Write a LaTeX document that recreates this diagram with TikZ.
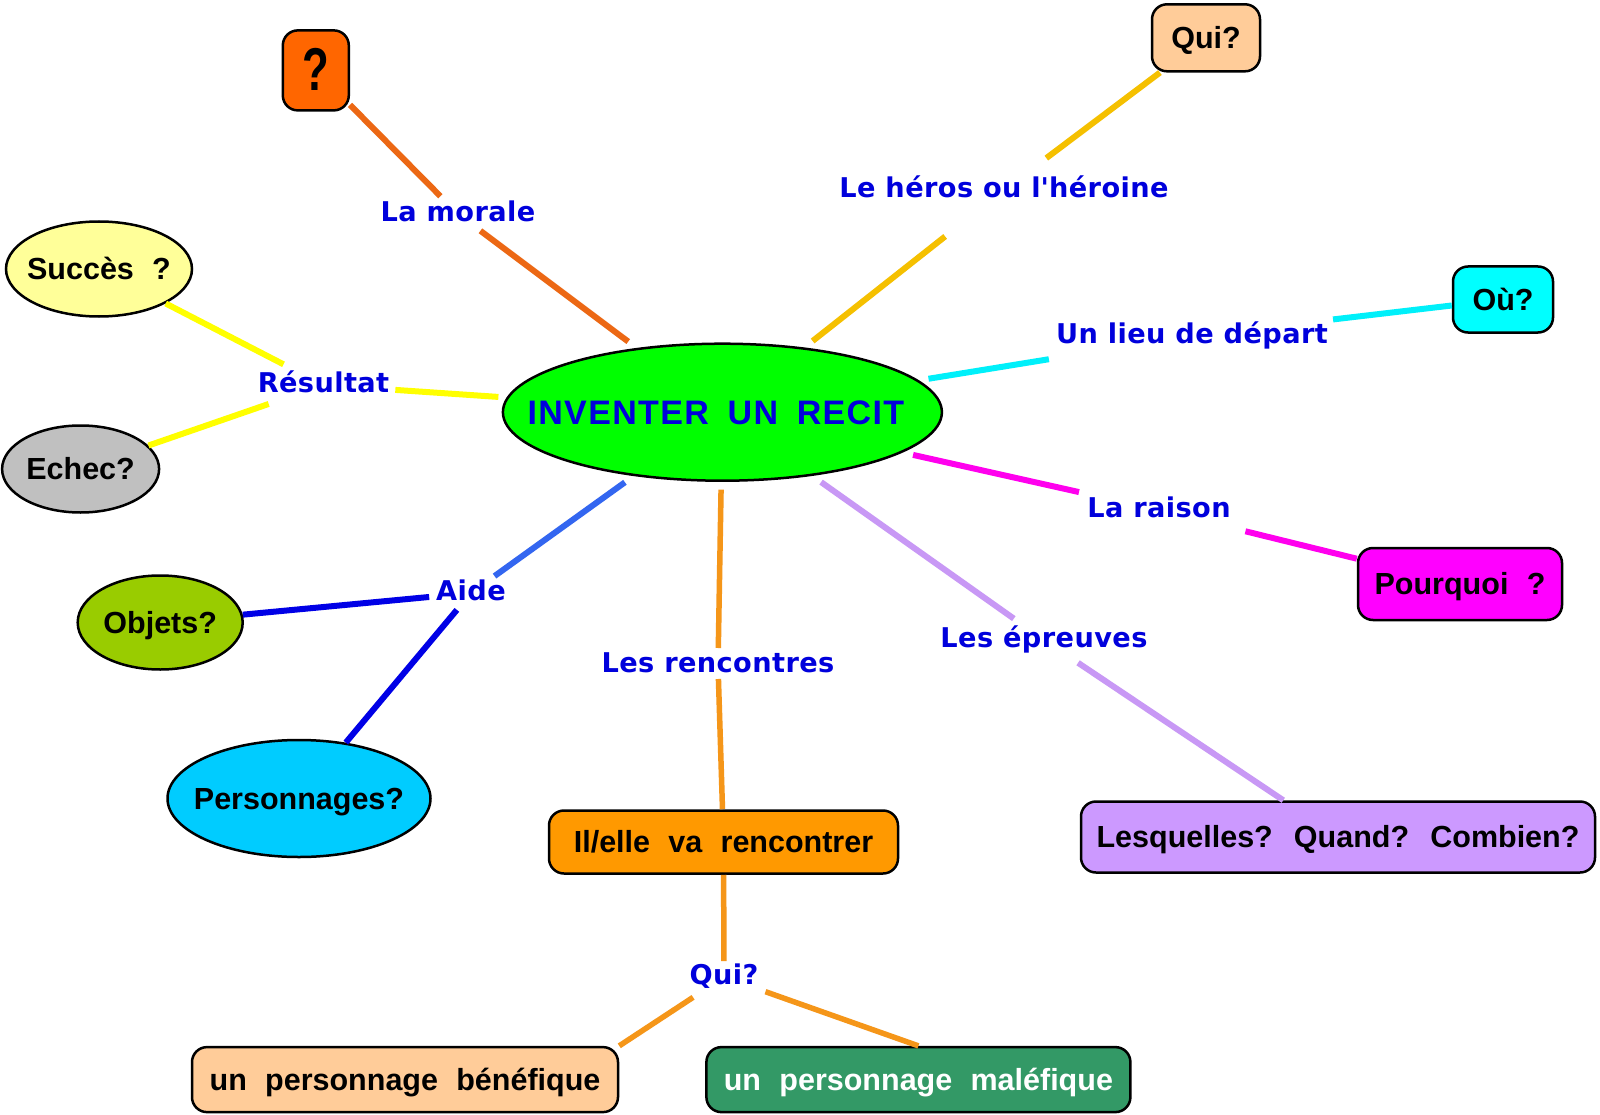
\documentclass[tikz,border=0pt]{standalone}
\usepackage{fontspec}
\usetikzlibrary{shapes.geometric}
\newfontfamily\arialf{Liberation Sans}
\newfontfamily\arialsp[LetterSpace=4]{Liberation Sans}
\newfontfamily\verdf[LetterSpace=1.5]{DejaVu Sans}
\newcommand\nodetxt{\arialf\bfseries\fontsize{30.5}{34}\selectfont\spaceskip=0.6em\relax}
\newcommand\centertxt{\arialsp\bfseries\fontsize{34}{38}\selectfont\spaceskip=0.55em\relax}
\newcommand\lbltxt{\verdf\bfseries\fontsize{27.2}{30}\selectfont}

\definecolor{lblue}{RGB}{0,0,220}
\definecolor{cgreen}{RGB}{0,255,0}
\definecolor{peach}{RGB}{255,204,153}
\definecolor{cyanf}{RGB}{0,255,255}
\definecolor{magf}{RGB}{255,0,255}
\definecolor{lavf}{RGB}{204,153,255}
\definecolor{orangef}{RGB}{255,153,0}
\definecolor{seagreen}{RGB}{51,153,102}
\definecolor{qorange}{RGB}{255,102,0}
\definecolor{paleyellow}{RGB}{255,255,153}
\definecolor{greyf}{RGB}{192,192,192}
\definecolor{oliveg}{RGB}{153,204,0}
\definecolor{skyf}{RGB}{0,204,255}
% connector colours
\definecolor{cmorale}{RGB}{236,104,20}
\definecolor{cheros}{RGB}{245,192,0}
\definecolor{clieu}{RGB}{0,240,250}
\definecolor{craison}{RGB}{255,0,238}
\definecolor{cepreuves}{RGB}{200,152,245}
\definecolor{crencontres}{RGB}{245,150,25}
\definecolor{cresultat}{RGB}{255,255,0}
\definecolor{caide}{RGB}{51,102,240}
\definecolor{daide}{RGB}{0,0,230}

\tikzset{
  lbl/.style={font=\lbltxt, text=lblue, inner xsep=5pt, inner ysep=1pt,
    text height=20pt, text depth=5pt},
  boxn/.style={draw=black, line width=2.5pt, rounded corners=15pt, inner sep=0pt,
    text height=21.8pt, text depth=0pt, font=\nodetxt},
  oval/.style={ellipse, draw=black, line width=2.5pt, inner sep=0pt,
    text height=21.8pt, text depth=0pt, font=\nodetxt},
  conn/.style={line width=6pt},
}

\begin{document}
\begin{tikzpicture}[x=1pt,y=-1pt]
\useasboundingbox[fill=white] (0,0) rectangle (1600,1115);

% central node
\node[ellipse, draw=black, line width=2.5pt, fill=cgreen, minimum width=439pt,
  minimum height=137pt, inner sep=0pt, outer sep=9pt, text=lblue,
  font=\centertxt, text height=24.3pt, text depth=0pt]
  (c) at (722.4,412.2) {\makebox[0pt]{\hspace*{-13pt}INVENTER UN RECIT}};

% outer nodes
\node[boxn, fill=qorange, minimum width=66pt, minimum height=80pt,
  font=\arialf\bfseries\fontsize{56}{60}\selectfont, text height=40pt]
  (qbox) at (315.8,70.4) {\scalebox{0.78}[1.08]{?}};
\node[boxn, fill=peach, minimum width=108pt, minimum height=67pt] (quit) at (1206,37.8) {Qui?};
\node[boxn, fill=cyanf, minimum width=100pt, minimum height=66pt] (ou) at (1503,299.5) {Où?};
\node[boxn, fill=magf, minimum width=204pt, minimum height=72pt] (pourquoi) at (1460,584) {Pourquoi ?};
\node[boxn, fill=lavf, minimum width=514pt, minimum height=71pt] (lesq) at (1338,837) {Lesquelles? Quand? Combien?};
\node[boxn, fill=orangef, minimum width=349pt, minimum height=63pt] (ilelle) at (723.5,842) {Il/elle va rencontrer};
\node[boxn, fill=peach, minimum width=426pt, minimum height=65pt] (benef) at (405,1079.6) {un personnage bénéfique};
\node[boxn, fill=seagreen, text=white, minimum width=424pt, minimum height=65pt] (malef) at (918.4,1079.6) {un personnage maléfique};

\node[oval, fill=paleyellow, minimum width=186pt, minimum height=95pt] (succes) at (99,269) {\makebox[0pt]{Succès ?}};
\node[oval, fill=greyf, minimum width=157pt, minimum height=87pt] (echec) at (80.6,469) {\makebox[0pt]{Echec?}};
\node[oval, fill=oliveg, minimum width=165pt, minimum height=94pt] (objets) at (160.2,622.5) {\makebox[0pt]{Objets?}};
\node[oval, fill=skyf, minimum width=263pt, minimum height=117pt] (perso) at (299,798.5) {\makebox[0pt]{Personnages?}};

% labels
\node[lbl] (morale) at (458,214) {La morale};
\node[lbl] (heros) at (1004,190) {Le héros ou l\textquotesingle héroine};
\node[lbl] (lieu) at (1192,336) {Un lieu de départ};
\node[lbl] (raison) at (1159,510) {La raison};
\node[lbl] (epreuves) at (1044,640) {Les épreuves};
\node[lbl] (rencontres) at (718,665) {Les rencontres};
\node[lbl] (quib) at (724,977) {Qui?};
\node[lbl] (resultat) at (323.5,385) {Résultat};
\node[lbl] (aide) at (471,593) {Aide};

% connectors (ends at labels are measured from the label centre)
\draw[conn, cmorale, shorten >=25pt] (qbox) -- (morale.center);
\draw[conn, cmorale, shorten <=28pt] (morale.center) -- (c);
\draw[conn, cheros, shorten >=75pt] (c) -- (heros.center);
\draw[conn, cheros, shorten <=53pt] (heros.center) -- (quit);
\draw[conn, clieu, shorten >=145pt] (c) -- (lieu.center);
\draw[conn, clieu, shorten <=142pt] (lieu.center) -- (ou);
\draw[conn, craison, shorten >=82pt] (c) -- (raison.center);
\draw[conn, craison, shorten <=89pt] (raison.center) -- (pourquoi);
\draw[conn, cepreuves, shorten >=37pt] (c) -- (epreuves.center);
\draw[conn, cepreuves, shorten <=41pt] (epreuves.center) -- (lesq);
\draw[conn, crencontres, line width=5.5pt, shorten >=17pt] (c) -- (rencontres.center);
\draw[conn, crencontres, line width=5.5pt, shorten <=14pt] (rencontres.center) -- (ilelle);
\draw[conn, crencontres, line width=5.5pt, shorten >=16pt] (ilelle) -- (quib.center);
\draw[conn, crencontres, line width=5.5pt, shorten <=37pt] (quib.center) -- (benef.north east);
\draw[conn, crencontres, line width=5.5pt, shorten <=44pt] (quib.center) -- (malef.north);
\draw[conn, cresultat, shorten >=72pt] (c) -- (resultat.center);
\draw[conn, cresultat, shorten <=45pt] (resultat.center) -- (succes);
\draw[conn, cresultat, shorten <=58pt] (resultat.center) -- (echec);
\draw[conn, caide, shorten >=29pt] (c) -- (aide.center);
\draw[conn, daide, shorten <=42pt] (aide.center) -- (objets);
\draw[conn, daide, shorten <=22pt] (aide.center) -- (perso);
\end{tikzpicture}
\end{document}
